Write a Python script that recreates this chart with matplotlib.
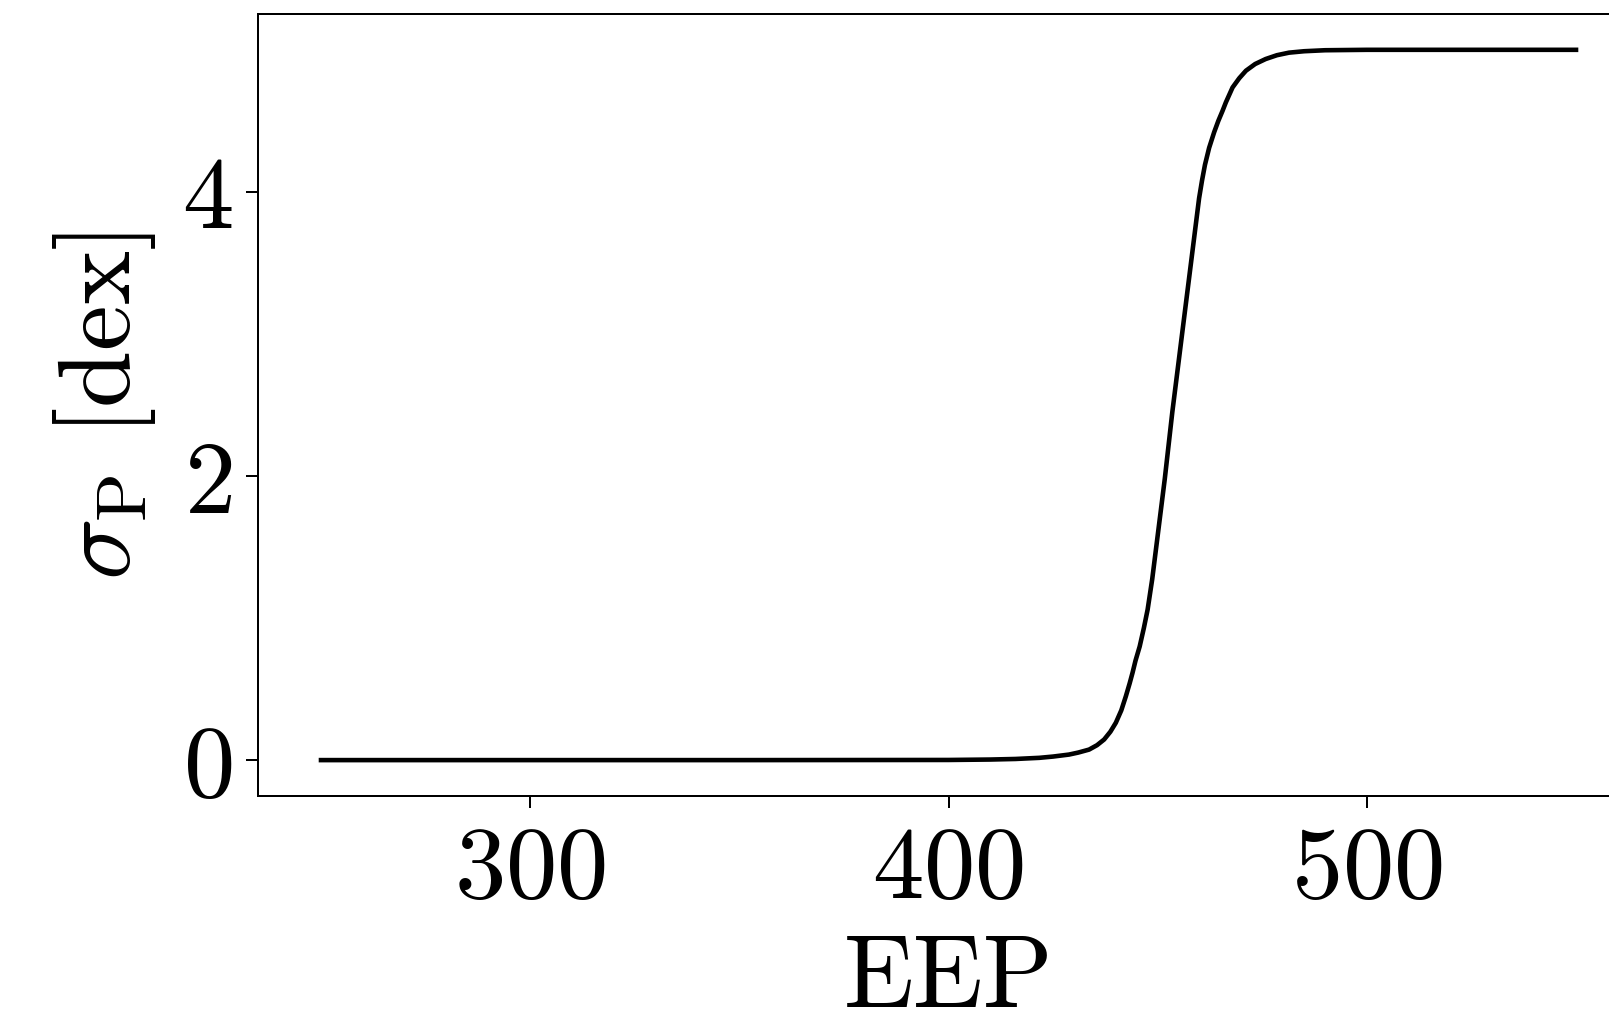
import numpy as np
import matplotlib
matplotlib.use("Agg")
from matplotlib import pyplot as plt

plt.rcParams['font.family'] = 'serif'
plt.rcParams['font.serif'] = ['cmr10']
plt.rcParams['mathtext.fontset'] = 'cm'
plt.rcParams['axes.formatter.use_mathtext'] = True
plt.rcParams['axes.unicode_minus'] = False

# sigma_P along the EEP track
eep = [250, 300, 350, 400, 410, 416, 421.7, 425, 428.8, 431, 433.6, 435.5,
       437.2, 438.7, 440, 441.3, 442.4, 443.3, 444, 444.7, 445.7, 446.7,
       447.6, 448.7, 449.7, 450.7, 451.7, 452.6, 453.5, 454.5, 455.9, 457.9,
       459.9, 460.6, 461.3, 462.3, 463.5, 464.5, 465.5, 466.3, 467.9, 469.5,
       471.1, 473.3, 475.8, 478.5, 481.4, 485, 490, 500, 550]
sigma_p = [0.0, 0.0, 0.0, 0.001, 0.004, 0.008, 0.016, 0.025, 0.039, 0.053,
           0.074, 0.105, 0.145, 0.2, 0.263, 0.35, 0.45, 0.54, 0.616, 0.70,
           0.80, 0.93, 1.06, 1.275, 1.51, 1.745, 1.98, 2.215, 2.45, 2.685,
           3.015, 3.485, 3.955, 4.08, 4.19, 4.31, 4.42, 4.50, 4.57, 4.63,
           4.735, 4.80, 4.853, 4.90, 4.935, 4.962, 4.98, 4.99, 4.997, 5.0,
           5.0]
x_ticks = [300, 400, 500]
y_ticks = [0, 2, 4]

fig = plt.figure(figsize=(16.09, 10.2), dpi=100)
ax = fig.add_axes([0.1605, 0.219, 0.858, 0.766])

ax.plot(eep, sigma_p, color='black', lw=3.3, solid_joinstyle='round')
ax.set_xlim(235, 565)
ax.set_ylim(-0.25, 5.25)
ax.set_xticks(x_ticks)
ax.set_yticks(y_ticks)

for s in ax.spines.values():
    s.set_linewidth(1.44)
ax.tick_params(labelsize=74, length=8.6, width=1.44, pad=10)
ax.tick_params(axis='x', pad=13)

ax.set_xlabel('EEP', fontsize=74, labelpad=12)
ax.set_ylabel(r'$\sigma_{\rm P}\ [{\rm dex}]$', fontsize=74, labelpad=17)

fig.savefig('out.png', dpi=100)
